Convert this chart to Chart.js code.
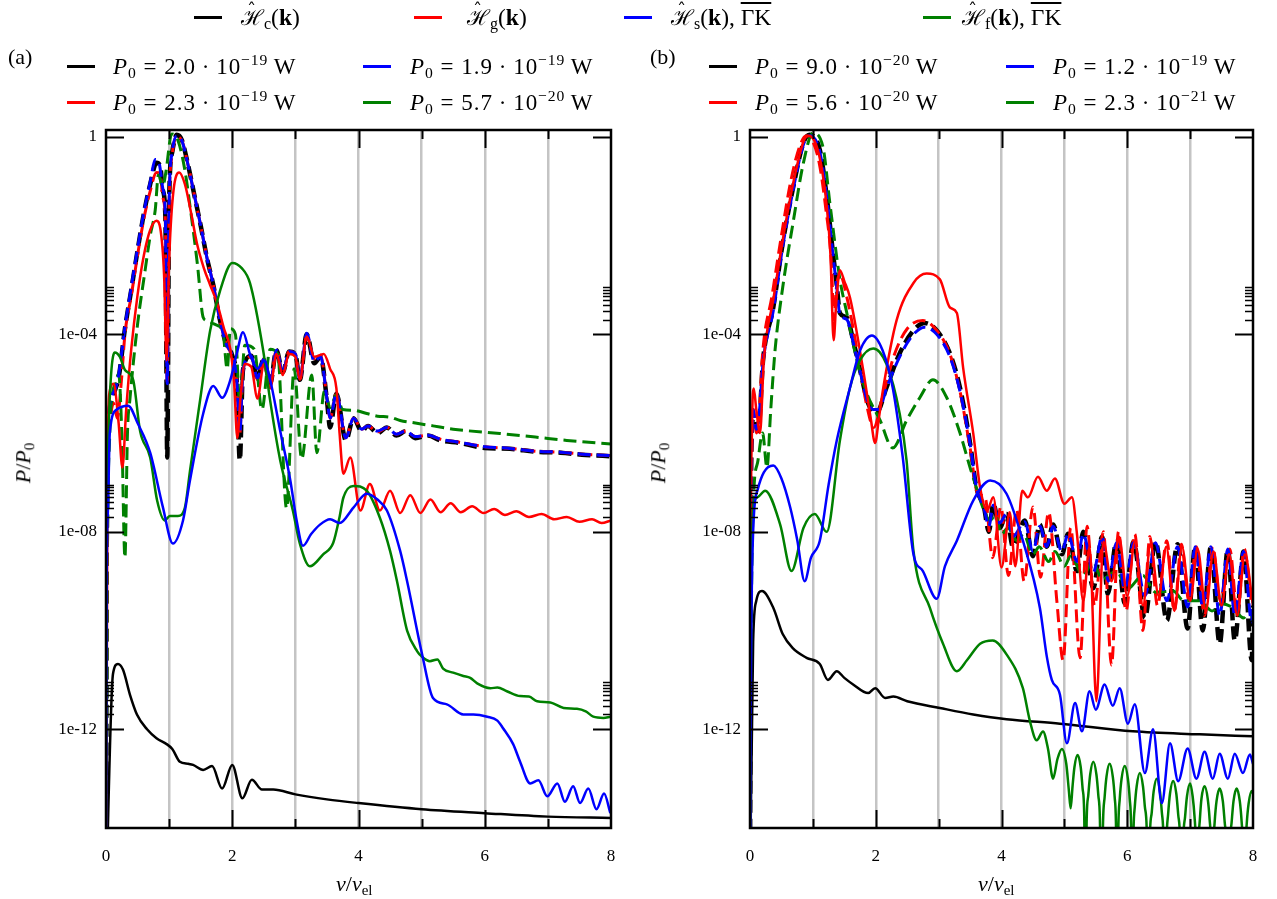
<!DOCTYPE html>
<html>
<head>
<meta charset="utf-8">
<script src="https://cdn.jsdelivr.net/npm/chart.js@4.4.1/dist/chart.umd.min.js"></script>
<style>
  html, body { margin: 0; padding: 0; background: #fff; }
  #wrap { position: relative; width: 1277px; height: 899px; overflow: hidden; font-family: 'Liberation Serif', 'DejaVu Serif', serif; color: #000; }
  canvas { position: absolute; top: 0; }
  .t { position: absolute; white-space: nowrap; font-size: 22px; line-height: 1; }
  .top { font-size: 23.5px; }
  .p0 { font-size: 23px; letter-spacing: 0.9px; }
  .sw { position: absolute; height: 3px; width: 28px; }
  .H { position: relative; display: inline-block; font-family: 'DejaVu Serif', serif; font-style: normal; font-size: 0.92em; }
  .H .hat { position: absolute; left: 0.32em; top: -0.28em; font-size: 0.85em; }
  .k { font-weight: bold; }
  .ov { text-decoration: overline; }
  .op { margin: 0 0.3em; }
  .dot { margin: 0 0.26em; }
  sub { font-size: 0.68em; vertical-align: -0.28em; line-height: 0; }
  sup { font-size: 0.68em; vertical-align: 0.55em; line-height: 0; }
  .ax { position: absolute; font-size: 22px; white-space: nowrap; line-height: 1; }
</style>
</head>
<body>
<div id="wrap">
  <canvas id="ca" width="640" height="899" style="left:0"></canvas>
  <canvas id="cb" width="637" height="899" style="left:640px"></canvas>

  <!-- common legend -->
  <div class="sw" style="left:194px;top:16px;background:#000"></div>
  <div class="t top" style="left:241px;top:6px"><span class="H">ℋ<span class="hat">ˆ</span></span><sub>c</sub>(<span class="k">k</span>)</div>
  <div class="sw" style="left:414px;top:16px;background:#f00"></div>
  <div class="t top" style="left:467px;top:6px"><span class="H">ℋ<span class="hat">ˆ</span></span><sub>g</sub>(<span class="k">k</span>)</div>
  <div class="sw" style="left:624px;top:16px;background:#00f"></div>
  <div class="t top" style="left:671px;top:6px"><span class="H">ℋ<span class="hat">ˆ</span></span><sub>s</sub>(<span class="k">k</span>), <span class="ov">ΓK</span></div>
  <div class="sw" style="left:923px;top:16px;background:#008000"></div>
  <div class="t top" style="left:962px;top:6px"><span class="H">ℋ<span class="hat">ˆ</span></span><sub>f</sub>(<span class="k">k</span>), <span class="ov">ΓK</span></div>

  <!-- panel (a) legend -->
  <div class="t" style="left:8px;top:46px">(a)</div>
  <div class="sw" style="left:67px;top:65px;background:#000"></div>
  <div class="t p0" style="left:113px;top:55px"><i>P</i><sub>0</sub><span class="op">=</span>2.0<span class="dot">·</span>10<sup>−19</sup>&#8201;W</div>
  <div class="sw" style="left:363px;top:65px;background:#00f"></div>
  <div class="t p0" style="left:410px;top:55px"><i>P</i><sub>0</sub><span class="op">=</span>1.9<span class="dot">·</span>10<sup>−19</sup>&#8201;W</div>
  <div class="sw" style="left:67px;top:101px;background:#f00"></div>
  <div class="t p0" style="left:113px;top:91px"><i>P</i><sub>0</sub><span class="op">=</span>2.3<span class="dot">·</span>10<sup>−19</sup>&#8201;W</div>
  <div class="sw" style="left:363px;top:101px;background:#008000"></div>
  <div class="t p0" style="left:410px;top:91px"><i>P</i><sub>0</sub><span class="op">=</span>5.7<span class="dot">·</span>10<sup>−20</sup>&#8201;W</div>

  <!-- panel (b) legend -->
  <div class="t" style="left:650px;top:46px">(b)</div>
  <div class="sw" style="left:709px;top:65px;background:#000"></div>
  <div class="t p0" style="left:755px;top:55px"><i>P</i><sub>0</sub><span class="op">=</span>9.0<span class="dot">·</span>10<sup>−20</sup>&#8201;W</div>
  <div class="sw" style="left:1006px;top:65px;background:#00f"></div>
  <div class="t p0" style="left:1053px;top:55px"><i>P</i><sub>0</sub><span class="op">=</span>1.2<span class="dot">·</span>10<sup>−19</sup>&#8201;W</div>
  <div class="sw" style="left:709px;top:101px;background:#f00"></div>
  <div class="t p0" style="left:755px;top:91px"><i>P</i><sub>0</sub><span class="op">=</span>5.6<span class="dot">·</span>10<sup>−20</sup>&#8201;W</div>
  <div class="sw" style="left:1006px;top:101px;background:#008000"></div>
  <div class="t p0" style="left:1053px;top:91px"><i>P</i><sub>0</sub><span class="op">=</span>2.3<span class="dot">·</span>10<sup>−21</sup>&#8201;W</div>

  <!-- axis titles -->
  <div class="ax" style="left:336px;top:873px"><i>ν</i>/<i>ν</i><sub>el</sub></div>
  <div class="ax" style="left:978px;top:873px"><i>ν</i>/<i>ν</i><sub>el</sub></div>
  <div class="ax" style="left:3px;top:452px;transform:rotate(-90deg);transform-origin:center"><i>P</i>/<i>P</i><sub>0</sub></div>
  <div class="ax" style="left:638px;top:452px;transform:rotate(-90deg);transform-origin:center"><i>P</i>/<i>P</i><sub>0</sub></div>
</div>

<script>
// ---- axis ticks ----
const xLabelTicks = [0, 2, 4, 6, 8];
const yTickValues = [1e-12, 1e-8, 1e-4, 1];
const yTickLabels = ['1e-12', '1e-08', '1e-04', '1'];
const yMinorDecades = [1e-12, 1e-8, 1e-4];
const yMinorSteps = [2, 3, 4, 5, 6, 7, 8, 9];

// ---- panel (a): [nu/nu_el, P/P0] ----
const a_c_dashed = [[0,1e-16],[0.01,1e-9],[0.03,5e-7],[0.06,2.5e-6],[0.1,5e-6],[0.15,7.9e-6],[0.2,1.3e-5],[0.3,1.3e-4],[0.4,7.9e-4],[0.5,5e-3],[0.6,2.8e-2],[0.7,0.11],[0.8,0.3],[0.86,0.25],[0.9,0.083],[0.94,0.025],[0.97,3.2e-7],[1.0,0.05],[1.05,0.5],[1.12,1.1],[1.2,0.87],[1.3,0.27],[1.4,0.066],[1.5,0.016],[1.6,3.5e-3],[1.7,1e-3],[1.8,2.1e-4],[1.9,6.6e-5],[2.0,3.7e-5],[2.07,1.2e-5],[2.12,2.8e-7],[2.17,1.9e-5],[2.3,3.7e-5],[2.4,1.3e-5],[2.5,3.2e-5],[2.6,1e-5],[2.7,4.8e-5],[2.8,1.7e-5],[2.9,4.5e-5],[3.0,4e-5],[3.07,1.2e-5],[3.18,1e-4],[3.3,2.6e-5],[3.4,3.5e-5],[3.5,4.6e-6],[3.55,1.3e-6],[3.65,6.3e-6],[3.8,7.1e-7],[3.92,2e-6],[4.05,1.1e-6],[4.15,1.4e-6],[4.3,1e-6],[4.45,1.3e-6],[4.6,8.9e-7],[4.75,1.1e-6],[4.9,7.9e-7],[5.1,8.9e-7],[5.3,7.1e-7],[5.6,6.3e-7],[6.0,5e-7],[6.4,4.8e-7],[6.8,4.2e-7],[7.2,4e-7],[7.6,3.6e-7],[8.0,3.4e-7]];
const a_g_dashed = [[0,1e-16],[0.01,1e-9],[0.03,3e-7],[0.07,2e-6],[0.12,4e-6],[0.18,2e-6],[0.24,1e-5],[0.3,1e-4],[0.4,6e-4],[0.5,4e-3],[0.6,2.2e-2],[0.7,8e-2],[0.8,0.19],[0.86,0.17],[0.9,0.06],[0.94,0.02],[0.97,1e-5],[1.0,0.04],[1.05,0.45],[1.12,1.0],[1.2,0.85],[1.3,0.27],[1.4,0.066],[1.5,0.016],[1.6,3.5e-3],[1.7,1e-3],[1.8,2.1e-4],[1.9,6.6e-5],[2.0,3.5e-5],[2.07,1.2e-5],[2.12,1e-6],[2.17,1.9e-5],[2.3,3.5e-5],[2.4,1.2e-5],[2.5,3.2e-5],[2.6,1e-5],[2.7,4.8e-5],[2.8,1.7e-5],[2.9,4.5e-5],[3.0,4e-5],[3.07,1.2e-5],[3.18,9.5e-5],[3.3,3.2e-5],[3.4,3.8e-5],[3.5,5e-6],[3.55,2e-6],[3.65,6.3e-6],[3.8,8e-7],[3.92,2e-6],[4.05,1.2e-6],[4.15,1.4e-6],[4.3,1.05e-6],[4.45,1.3e-6],[4.6,9.5e-7],[4.75,1.1e-6],[4.9,8.5e-7],[5.1,9e-7],[5.3,7.5e-7],[5.6,6.5e-7],[6.0,5.3e-7],[6.4,4.9e-7],[6.8,4.3e-7],[7.2,4.1e-7],[7.6,3.7e-7],[8.0,3.5e-7]];
const a_s_dashed = [[0,1e-16],[0.01,1e-9],[0.03,1e-6],[0.06,4e-6],[0.1,6e-6],[0.15,8e-6],[0.2,1.5e-5],[0.3,1.4e-4],[0.4,9e-4],[0.5,5.5e-3],[0.6,3e-2],[0.7,0.12],[0.78,0.35],[0.84,0.3],[0.9,0.09],[0.94,0.025],[0.97,1e-5],[1.0,0.05],[1.05,0.5],[1.12,1.05],[1.2,0.85],[1.3,0.27],[1.4,0.066],[1.5,0.016],[1.6,3.5e-3],[1.7,1e-3],[1.8,2.1e-4],[1.9,6.6e-5],[2.0,3.7e-5],[2.07,1.2e-5],[2.12,1e-6],[2.17,1.9e-5],[2.3,3.7e-5],[2.4,1.3e-5],[2.5,3.2e-5],[2.6,1e-5],[2.7,4.8e-5],[2.8,1.7e-5],[2.9,4.5e-5],[3.0,4e-5],[3.07,1.2e-5],[3.18,1.05e-4],[3.3,2.8e-5],[3.4,3.5e-5],[3.5,5e-6],[3.55,2e-6],[3.65,6.3e-6],[3.8,8e-7],[3.92,2e-6],[4.05,1.2e-6],[4.15,1.4e-6],[4.3,1.1e-6],[4.45,1.3e-6],[4.6,9.5e-7],[4.75,1.1e-6],[4.9,8.5e-7],[5.1,9e-7],[5.3,7.5e-7],[5.6,6.5e-7],[6.0,5.3e-7],[6.4,4.9e-7],[6.8,4.3e-7],[7.2,4.1e-7],[7.6,3.7e-7],[8.0,3.5e-7]];
const a_f_dashed = [[0,1e-16],[0.02,1e-9],[0.06,1e-6],[0.1,6e-6],[0.15,1e-5],[0.2,1.6e-5],[0.25,1e-6],[0.3,3e-9],[0.34,1e-6],[0.38,5e-6],[0.5,1.6e-4],[0.62,2e-3],[0.7,1e-2],[0.78,3.3e-2],[0.83,0.17],[0.9,0.1],[0.95,0.2],[1.04,1.15],[1.14,0.85],[1.25,0.21],[1.35,2.6e-2],[1.45,2.5e-3],[1.54,2.2e-4],[1.6,1.9e-4],[1.68,1.7e-4],[1.77,1.5e-4],[1.85,1.2e-4],[1.92,2e-5],[1.97,1.3e-4],[2.05,1e-4],[2.12,4e-6],[2.2,6e-5],[2.35,5e-5],[2.47,3e-6],[2.6,5e-5],[2.72,4e-5],[2.86,3e-8],[2.98,2e-5],[3.1,3e-7],[3.26,1.5e-5],[3.34,4e-7],[3.46,7e-6],[3.55,3.3e-6],[3.65,6e-6],[3.75,3e-6],[3.92,2.9e-6],[4.13,2.5e-6],[4.3,2.2e-6],[4.5,2.1e-6],[4.66,1.8e-6],[4.9,1.6e-6],[5.18,1.4e-6],[5.5,1.2e-6],[6.24,9.8e-7],[6.8,8.3e-7],[7.3,7.1e-7],[8.0,6e-7]];
const a_c_solid = [[0,1e-16],[0.03,1e-14],[0.11,1.3e-11],[0.19,2.1e-11],[0.27,1.6e-11],[0.38,5e-12],[0.49,2e-12],[0.65,1e-12],[0.8,6.6e-13],[0.96,5e-13],[1.05,4e-13],[1.17,2.2e-13],[1.3,2e-13],[1.38,1.9e-13],[1.54,1.5e-13],[1.68,1.8e-13],[1.84,6.3e-14],[2.0,1.9e-13],[2.16,4e-14],[2.31,9.5e-14],[2.47,6e-14],[2.65,6e-14],[3.0,4.8e-14],[3.5,3.8e-14],[4.0,3.2e-14],[5.0,2.4e-14],[6.0,2e-14],[7.0,1.7e-14],[8.0,1.6e-14]];
const a_g_solid = [[0,1e-16],[0.02,1e-8],[0.05,6e-6],[0.12,1e-5],[0.2,1.6e-6],[0.26,2e-7],[0.32,3e-6],[0.4,5e-5],[0.5,6.3e-4],[0.6,4e-3],[0.7,1.3e-2],[0.8,2e-2],[0.86,1.4e-2],[0.92,1.6e-3],[0.96,3e-5],[1.0,3e-3],[1.06,6.3e-2],[1.16,0.19],[1.25,0.11],[1.35,2.8e-2],[1.44,7e-3],[1.55,2.2e-3],[1.65,1e-3],[1.76,4.3e-4],[1.87,1.3e-4],[1.97,5e-5],[2.03,1e-5],[2.08,8e-7],[2.13,5e-6],[2.2,2.5e-5],[2.3,2.2e-5],[2.4,5e-6],[2.5,2.5e-5],[2.6,8e-6],[2.7,4e-5],[2.8,1.5e-5],[2.9,4e-5],[3.0,3.5e-5],[3.07,1.2e-5],[3.18,9e-5],[3.3,3.5e-5],[3.45,4e-5],[3.55,2e-5],[3.65,8e-6],[3.7,1e-6],[3.76,1.5e-7],[3.87,3.2e-7],[4.03,2.7e-8],[4.18,9.3e-8],[4.34,2.7e-8],[4.5,6.8e-8],[4.66,2.4e-8],[4.82,5.5e-8],[4.98,2.4e-8],[5.14,4.5e-8],[5.3,2.5e-8],[5.46,3.8e-8],[5.62,2.5e-8],[5.8,3.3e-8],[5.98,2.4e-8],[6.15,2.9e-8],[6.32,2.2e-8],[6.5,2.6e-8],[6.7,2e-8],[6.9,2.3e-8],[7.1,1.8e-8],[7.3,2e-8],[7.5,1.6e-8],[7.7,1.8e-8],[7.85,1.5e-8],[8.0,1.7e-8]];
const a_s_solid = [[0,1e-16],[0.01,1e-9],[0.03,2.5e-8],[0.06,1e-6],[0.17,3e-6],[0.35,3.6e-6],[0.5,1.6e-6],[0.7,4e-7],[0.9,3.2e-8],[1.06,5.8e-9],[1.22,1.7e-8],[1.33,1.1e-7],[1.54,2.5e-6],[1.7,9e-6],[1.84,5.2e-6],[1.97,1.2e-5],[2.07,4e-5],[2.17,1.1e-4],[2.28,4e-5],[2.4,2e-5],[2.5,3e-5],[2.6,1.2e-5],[2.76,1.1e-6],[2.92,1.1e-7],[3.02,1.7e-8],[3.12,5.2e-9],[3.25,9e-9],[3.39,1.4e-8],[3.55,1.8e-8],[3.7,1.5e-8],[3.92,3.1e-8],[4.13,5.9e-8],[4.3,4.5e-8],[4.45,2.7e-8],[4.66,4.1e-9],[4.77,1e-9],[5.01,3.2e-11],[5.18,4.3e-12],[5.4,3.2e-12],[5.66,2e-12],[5.82,2e-12],[6.04,1.8e-12],[6.2,1.5e-12],[6.29,1.05e-12],[6.45,5e-13],[6.56,2.2e-13],[6.72,8e-14],[6.85,9.3e-14],[6.99,4.4e-14],[7.15,8e-14],[7.27,3.4e-14],[7.4,7e-14],[7.51,3.2e-14],[7.64,6.3e-14],[7.77,2.4e-14],[7.89,5e-14],[7.99,2e-14]];
const a_f_solid = [[0,1e-16],[0.01,1e-9],[0.04,1e-6],[0.08,1.5e-5],[0.14,4.3e-5],[0.22,3.5e-5],[0.3,1.9e-5],[0.43,1.2e-5],[0.54,1.1e-6],[0.7,3.2e-7],[0.81,4.3e-8],[0.93,1.7e-8],[1.01,2.1e-8],[1.14,2.1e-8],[1.25,3.1e-8],[1.33,1.7e-7],[1.49,4.6e-6],[1.65,1.2e-4],[1.81,7.9e-4],[2.0,2.8e-3],[2.15,2.2e-3],[2.28,1.1e-3],[2.49,4.7e-5],[2.6,4.6e-6],[2.76,2.8e-7],[2.96,2.7e-8],[3.07,5.8e-9],[3.23,2e-9],[3.44,3.5e-9],[3.6,6e-9],[3.7,2e-8],[3.76,4.9e-8],[3.92,8.5e-8],[4.13,6.8e-8],[4.34,1.9e-8],[4.5,4.1e-9],[4.61,1e-9],[4.77,1e-10],[4.93,3.8e-11],[5.0,3e-11],[5.13,2.4e-11],[5.25,2.6e-11],[5.34,1.7e-11],[5.5,1.4e-11],[5.66,1.2e-11],[5.77,1.1e-11],[5.88,8.5e-12],[6.09,6.8e-12],[6.2,7e-12],[6.35,5.9e-12],[6.56,4.7e-12],[6.7,4.6e-12],[6.83,3.7e-12],[7.04,3.5e-12],[7.25,2.7e-12],[7.46,2.6e-12],[7.6,2.3e-12],[7.72,1.8e-12],[7.88,1.7e-12],[7.99,1.8e-12]];

// ---- panel (b): [nu/nu_el, P/P0] ----
const b_c_dashed = [[0,1e-16],[0.01,1e-9],[0.03,1e-6],[0.05,2e-6],[0.09,1.5e-6],[0.13,1.1e-6],[0.21,3.2e-5],[0.37,3.5e-4],[0.52,7e-3],[0.69,0.1],[0.85,0.76],[0.95,1.1],[1.11,0.55],[1.22,6.3e-2],[1.32,4.4e-3],[1.38,1e-3],[1.43,2.7e-4],[1.54,2.2e-4],[1.64,7.6e-5],[1.75,1.9e-5],[1.88,4e-6],[2.01,2.5e-6],[2.17,8.3e-6],[2.38,4.1e-5],[2.6,1.2e-4],[2.78,1.7e-4],[2.97,1.2e-4],[3.18,4.1e-5],[3.34,8.3e-6],[3.5,6.3e-7],[3.6,7.9e-8],[3.72,3.2e-8],[3.8,1e-8],[3.87,3.7e-8],[3.97,1.2e-8],[4.08,2.3e-8],[4.18,5e-9],[4.37,1.7e-8],[4.5,3.2e-9],[4.61,1.4e-8],[4.72,5e-9],[4.82,1.4e-8],[4.96,3.5e-9],[5.06,9.1e-9],[5.2,1.6e-9],[5.3,1e-8],[5.46,7.2e-10],[5.6,7.9e-9],[5.69,5.5e-10],[5.83,6.3e-9],[5.96,3.5e-10],[6.1,6.3e-9],[6.28,1.8e-10],[6.45,6.3e-9],[6.63,1.6e-10],[6.8,5.6e-9],[6.96,1.1e-10],[7.08,5e-9],[7.2,1e-10],[7.33,5e-9],[7.47,5.4e-11],[7.6,4.5e-9],[7.71,6.3e-11],[7.85,4e-9],[7.98,2.5e-11],[8.0,3.2e-10]];
const b_g_dashed = [[0,1e-16],[0.01,1e-9],[0.03,5e-7],[0.06,3e-6],[0.1,1e-6],[0.15,3e-6],[0.2,4e-5],[0.35,6e-4],[0.5,1e-2],[0.65,0.13],[0.8,0.7],[0.9,1.05],[1.0,0.8],[1.1,0.3],[1.2,4e-2],[1.3,2e-3],[1.33,2e-4],[1.38,1e-3],[1.43,1.6e-3],[1.55,5e-4],[1.7,5e-5],[1.85,4e-6],[1.97,1.3e-6],[2.1,5e-6],[2.3,4e-5],[2.5,1.3e-4],[2.75,1.9e-4],[2.97,1.2e-4],[3.18,4e-5],[3.34,7e-6],[3.5,5e-7],[3.62,6e-8],[3.74,4.9e-8],[3.86,3e-9],[3.99,3.2e-8],[4.11,1.3e-9],[4.24,2.8e-8],[4.36,1e-9],[4.5,3.2e-8],[4.62,1.2e-9],[4.75,2.5e-8],[4.88,4e-10],[4.98,2.5e-11],[5.1,1.2e-8],[5.25,2.8e-11],[5.36,1.3e-8],[5.48,3.2e-10],[5.62,1e-8],[5.75,2e-11],[5.86,1e-8],[5.98,2.5e-10],[6.12,9e-9],[6.25,1e-10],[6.36,8e-9],[6.48,3.2e-10],[6.63,6.6e-9],[6.75,2.5e-10],[6.86,5.6e-9],[6.98,4e-10],[7.1,5e-9],[7.23,2e-10],[7.36,5e-9],[7.48,4e-10],[7.63,4.5e-9],[7.75,2.5e-10],[7.86,4.5e-9],[7.98,3.2e-10]];
const b_s_dashed = [[0,1e-16],[0.01,1e-9],[0.03,1e-6],[0.05,3e-6],[0.1,1.2e-6],[0.14,2e-6],[0.21,2.8e-5],[0.37,3e-4],[0.52,6e-3],[0.69,9e-2],[0.85,0.7],[0.95,1.05],[1.11,0.5],[1.22,6e-2],[1.32,4e-3],[1.38,9e-4],[1.43,2.5e-4],[1.54,2e-4],[1.64,7e-5],[1.75,1.8e-5],[1.88,4e-6],[1.96,3e-6],[2.05,3e-6],[2.17,8e-6],[2.38,3.5e-5],[2.6,1e-4],[2.78,1.4e-4],[2.97,1e-4],[3.18,3.5e-5],[3.34,7e-6],[3.5,6e-7],[3.6,8e-8],[3.72,3e-8],[3.8,1.3e-8],[3.87,3.5e-8],[3.97,1.5e-8],[4.08,2.3e-8],[4.18,8e-9],[4.37,1.6e-8],[4.5,4e-9],[4.61,1.3e-8],[4.72,5e-9],[4.82,1.3e-8],[4.96,4e-9],[5.06,9e-9],[5.2,2.5e-9],[5.3,9e-9],[5.46,1.5e-9],[5.6,8e-9],[5.7,1e-9],[5.83,6e-9],[5.96,7e-10],[6.1,6e-9],[6.28,5e-10],[6.45,6e-9],[6.63,4e-10],[6.8,5e-9],[6.96,3e-10],[7.08,5e-9],[7.2,3e-10],[7.33,5e-9],[7.47,2e-10],[7.6,4.5e-9],[7.71,2e-10],[7.85,4e-9],[7.98,1.5e-10],[8.0,4e-10]];
const b_f_dashed = [[0,1e-16],[0.01,1e-12],[0.05,3e-8],[0.12,2.5e-7],[0.2,1e-6],[0.27,2e-7],[0.33,3e-6],[0.4,5e-5],[0.52,8.9e-4],[0.69,2e-2],[0.85,0.3],[1.0,1.2],[1.16,0.63],[1.27,4.6e-2],[1.43,1.3e-3],[1.54,2.7e-4],[1.7,3e-5],[1.86,6.3e-6],[2.07,1.8e-6],[2.27,5e-7],[2.49,1.8e-6],[2.7,5.2e-6],[2.91,1.2e-5],[3.13,5.2e-6],[3.34,1e-6],[3.5,2e-7],[3.6,7.9e-8],[3.7,3.2e-8],[3.82,1.7e-8],[3.9,2.2e-8],[4.0,9e-9],[4.1,1.2e-8],[4.25,6.6e-9],[4.35,9e-9],[4.5,3.5e-9],[4.6,5e-9],[4.75,2.5e-9],[4.85,4e-9],[5.0,2e-9],[5.1,3.2e-9],[5.3,1.3e-9],[5.45,2.5e-9],[5.6,1.1e-9],[5.83,1.6e-9],[6.0,7e-10],[6.25,1.3e-9],[6.45,6e-10],[6.73,6.3e-10],[6.9,4e-10],[7.15,4e-10],[7.35,2.5e-10],[7.5,3.5e-10],[7.68,2.9e-10],[7.85,1.8e-10],[7.95,2.5e-10],[8.0,1.6e-10]];
const b_c_solid = [[0,1e-16],[0.01,1e-14],[0.05,6e-11],[0.1,4e-10],[0.19,6.3e-10],[0.37,2.9e-10],[0.52,8.5e-11],[0.68,4.4e-11],[0.9,2.8e-11],[1.11,2.1e-11],[1.24,1e-11],[1.38,1.5e-11],[1.5,1.1e-11],[1.64,8.1e-12],[1.88,5.4e-12],[1.99,6.8e-12],[2.15,4.3e-12],[2.28,4.6e-12],[2.5,3.7e-12],[3.02,2.7e-12],[3.55,2e-12],[4.08,1.6e-12],[4.93,1.3e-12],[6.09,9.1e-13],[7.15,7.9e-13],[8.0,7.2e-13]];
const b_g_solid = [[0,1e-16],[0.01,1e-9],[0.03,1e-6],[0.06,8e-6],[0.1,3e-6],[0.16,1e-6],[0.22,3e-5],[0.37,5e-4],[0.52,8e-3],[0.69,0.12],[0.85,0.8],[0.93,1.05],[1.05,0.7],[1.15,0.2],[1.22,4e-2],[1.28,4e-3],[1.33,7.6e-5],[1.37,4e-4],[1.43,2e-3],[1.5,1.2e-3],[1.59,5.6e-4],[1.8,1.9e-5],[1.92,2e-6],[1.99,6.3e-7],[2.05,2e-6],[2.12,8.3e-6],[2.33,1.9e-4],[2.6,1.1e-3],[2.81,1.7e-3],[3.02,1.3e-3],[3.18,3.5e-4],[3.29,2.7e-4],[3.39,2.1e-5],[3.55,1e-6],[3.66,7.9e-8],[3.77,2.7e-8],[3.87,5e-8],[4.0,1.9e-9],[4.13,2.5e-8],[4.22,2e-9],[4.33,6.8e-8],[4.42,5e-8],[4.58,1.3e-7],[4.72,6.8e-8],[4.85,1.2e-7],[5.0,3.7e-8],[5.12,5e-8],[5.2,9.1e-9],[5.3,4e-10],[5.4,5e-9],[5.51,3.7e-12],[5.62,6.3e-9],[5.75,1e-9],[5.87,7.9e-9],[6.0,5e-10],[6.12,6.3e-9],[6.25,3.2e-10],[6.37,5.6e-9],[6.5,5e-10],[6.62,5e-9],[6.75,2.5e-10],[6.87,5e-9],[7.0,4e-10],[7.12,4.5e-9],[7.25,2.5e-10],[7.37,4e-9],[7.5,3.2e-10],[7.62,3.5e-9],[7.75,2e-10],[7.87,3.5e-9],[8.0,3.2e-10]];
const b_s_solid = [[0,1e-16],[0.01,1e-12],[0.05,1e-8],[0.12,7e-8],[0.22,1.6e-7],[0.37,2.2e-7],[0.5,1.2e-7],[0.64,3.1e-8],[0.75,7e-9],[0.87,1e-9],[0.97,3e-9],[1.11,6.6e-9],[1.25,9e-8],[1.38,7.1e-7],[1.59,8.3e-6],[1.75,4.7e-5],[1.94,9.5e-5],[2.11,4.7e-5],[2.27,8.3e-6],[2.43,3.2e-7],[2.6,3.5e-9],[2.75,1.6e-9],[2.97,4.4e-10],[3.1,2e-9],[3.29,6.6e-9],[3.55,4.3e-8],[3.82,1.1e-7],[4.08,5.9e-8],[4.34,6.6e-9],[4.61,2.9e-10],[4.72,3e-11],[4.8,1e-11],[4.93,5e-12],[5.04,5.2e-13],[5.17,3.4e-12],[5.28,9.1e-13],[5.4,5.9e-12],[5.5,2.5e-12],[5.64,8.1e-12],[5.77,3e-12],[5.88,6.8e-12],[6.01,1.3e-12],[6.12,3.2e-12],[6.28,1.3e-13],[6.41,1e-12],[6.55,3.2e-14],[6.68,5.2e-13],[6.81,8.9e-14],[6.96,4.1e-13],[7.1,1e-13],[7.23,3.5e-13],[7.36,1e-13],[7.47,3.2e-13],[7.6,1e-13],[7.71,3.2e-13],[7.84,1.3e-13],[7.95,3.1e-13],[8.0,2e-13]];
const b_f_solid = [[0,1e-16],[0.01,1e-12],[0.05,3e-8],[0.12,5e-8],[0.24,6.8e-8],[0.48,1.4e-8],[0.66,1.6e-9],[0.85,1.2e-8],[1.03,2.3e-8],[1.22,1e-8],[1.43,7.1e-7],[1.59,8.3e-6],[1.75,3e-5],[1.96,5.2e-5],[2.17,2.5e-5],[2.38,2.5e-6],[2.49,2.8e-7],[2.6,4.1e-9],[2.86,2.9e-10],[3.07,5.4e-11],[3.29,1.5e-11],[3.45,2.5e-11],[3.66,5.4e-11],[3.86,6.3e-11],[4.08,3.3e-11],[4.34,6.8e-12],[4.45,1.5e-12],[4.56,6e-13],[4.66,9e-13],[4.74,4e-13],[4.82,1e-13],[4.89,2.5e-13],[4.96,4e-13],[5.03,2e-13],[5.07,6e-14],[5.1,2.5e-14],[5.13,7e-14],[5.16,1.7e-13],[5.21,3e-13],[5.26,1.7e-13],[5.29,6.3e-14],[5.315,2e-14],[5.335,1e-16],[5.355,1.5e-14],[5.38,4.6e-14],[5.41,1.2e-13],[5.46,2.2e-13],[5.51,1.2e-13],[5.54,4.6e-14],[5.565,1.5e-14],[5.59,1e-16],[5.615,1.3e-14],[5.64,4.2e-14],[5.67,1.1e-13],[5.72,2e-13],[5.77,1.1e-13],[5.8,4.2e-14],[5.82,1.3e-14],[5.84,1e-16],[5.86,1.2e-14],[5.88,3.8e-14],[5.91,1e-13],[5.96,1.8e-13],[6.01,1e-13],[6.04,3.8e-14],[6.06,1.2e-14],[6.08,1e-16],[6.1,9e-15],[6.12,2.7e-14],[6.15,7e-14],[6.2,1.3e-13],[6.25,7e-14],[6.28,2.7e-14],[6.31,9e-15],[6.335,1e-16],[6.36,7e-15],[6.39,2.1e-14],[6.42,5.5e-14],[6.47,1e-13],[6.52,5.5e-14],[6.55,2.1e-14],[6.575,7e-15],[6.6,1e-16],[6.625,6e-15],[6.65,1.9e-14],[6.68,5e-14],[6.73,9e-14],[6.78,5e-14],[6.81,1.9e-14],[6.84,6e-15],[6.865,1e-16],[6.89,5.5e-15],[6.92,1.7e-14],[6.95,4.4e-14],[7.0,8e-14],[7.04,4.4e-14],[7.07,1.7e-14],[7.09,5.5e-15],[7.115,1e-16],[7.135,5e-15],[7.155,1.5e-14],[7.18,3.9e-14],[7.23,7e-14],[7.28,3.9e-14],[7.31,1.5e-14],[7.33,5e-15],[7.35,1e-16],[7.37,4.2e-15],[7.39,1.3e-14],[7.42,3.5e-14],[7.47,6.3e-14],[7.52,3.5e-14],[7.55,1.3e-14],[7.58,4.2e-15],[7.605,1e-16],[7.63,4.2e-15],[7.66,1.3e-14],[7.69,3.5e-14],[7.74,6.3e-14],[7.79,3.5e-14],[7.82,1.3e-14],[7.84,4.2e-15],[7.86,1e-16],[7.88,3.7e-15],[7.9,1.2e-14],[7.93,3.1e-14],[7.98,5.6e-14],[8.0,5e-14]];

const BLACK = '#000000', RED = '#ff0000', BLUE = '#0000ff', GREEN = '#008000';

function line(data, color, dashed, width) {
  return {
    data, borderColor: color, backgroundColor: color,
    borderWidth: width || (dashed ? 3 : 2.5),
    borderDash: dashed ? [13, 6] : [],
    pointRadius: 0, fill: false,
    cubicInterpolationMode: 'monotone'
  };
}

// draws the inward tick marks and the frame around the plot area
const frameAndTicks = {
  id: 'frameAndTicks',
  afterDatasetsDraw(chart) {
    const { ctx, chartArea: a, scales: { x, y } } = chart;
    ctx.save();
    ctx.strokeStyle = '#000';
    ctx.lineWidth = 2;
    ctx.beginPath();
    for (let i = 1; i < 8; i++) {
      const px = Math.round(x.getPixelForValue(i)) + 0.5;
      const len = i % 2 === 0 ? 18 : 9;
      ctx.moveTo(px, a.bottom); ctx.lineTo(px, a.bottom - len);
      ctx.moveTo(px, a.top); ctx.lineTo(px, a.top + len);
    }
    yTickValues.forEach(v => {
      const py = Math.round(y.getPixelForValue(v)) + 0.5;
      ctx.moveTo(a.left, py); ctx.lineTo(a.left + 18, py);
      ctx.moveTo(a.right, py); ctx.lineTo(a.right - 18, py);
    });
    ctx.stroke();
    ctx.lineWidth = 1.5;
    ctx.beginPath();
    yMinorDecades.forEach(d => yMinorSteps.forEach(k => {
      const py = Math.round(y.getPixelForValue(d * k)) + 0.5;
      ctx.moveTo(a.left, py); ctx.lineTo(a.left + 8, py);
      ctx.moveTo(a.right, py); ctx.lineTo(a.right - 8, py);
    }));
    ctx.stroke();
    ctx.lineWidth = 2.5;
    ctx.strokeRect(a.left, a.top, a.right - a.left, a.bottom - a.top);
    ctx.restore();
  }
};

function makePanel(canvasId, sets, leftWidth, rightPad) {
  const [cd, gd, sd, fd, cs, gs, ss, fs] = sets;
  new Chart(document.getElementById(canvasId), {
    type: 'line',
    data: {
      datasets: [
        line(ss, BLUE, false), line(fs, GREEN, false), line(gs, RED, false), line(cs, BLACK, false),
        line(sd, BLUE, true), line(fd, GREEN, true), line(gd, RED, true), line(cd, BLACK, true, 4.5)
      ]
    },
    options: {
      responsive: false, animation: false, devicePixelRatio: 1,
      layout: { padding: { top: 130, right: rightPad, bottom: 11, left: 0 } },
      plugins: { legend: { display: false }, tooltip: { enabled: false } },
      scales: {
        x: {
          type: 'linear', min: 0, max: 8,
          afterFit: s => { s.height = 60; },
          border: { display: false },
          grid: {
            drawTicks: false, lineWidth: 2.5,
            color: c => (c.tick && c.tick.value > 0 && c.tick.value < 8) ? '#c4c4c4' : 'rgba(0,0,0,0)'
          },
          ticks: {
            stepSize: 1, padding: 18, color: '#000', maxRotation: 0,
            font: { family: 'Liberation Serif', size: 17 },
            callback: v => xLabelTicks.includes(v) ? String(v) : ''
          }
        },
        y: {
          type: 'logarithmic', min: 1e-14, max: 1.38,
          afterFit: s => { s.width = leftWidth; },
          afterBuildTicks: s => { s.ticks = yTickValues.map(v => ({ value: v })); },
          border: { display: false },
          grid: { display: false, drawTicks: false },
          ticks: {
            padding: 9, color: '#000',
            font: { family: 'Liberation Serif', size: 17 },
            callback: v => { const i = yTickValues.indexOf(v); return i >= 0 ? yTickLabels[i] : ''; }
          }
        }
      }
    },
    plugins: [frameAndTicks]
  });
}

makePanel('ca', [a_c_dashed, a_g_dashed, a_s_dashed, a_f_dashed, a_c_solid, a_g_solid, a_s_solid, a_f_solid], 106, 29);
makePanel('cb', [b_c_dashed, b_g_dashed, b_s_dashed, b_f_dashed, b_c_solid, b_g_solid, b_s_solid, b_f_solid], 110, 24);
</script>
</body>
</html>
